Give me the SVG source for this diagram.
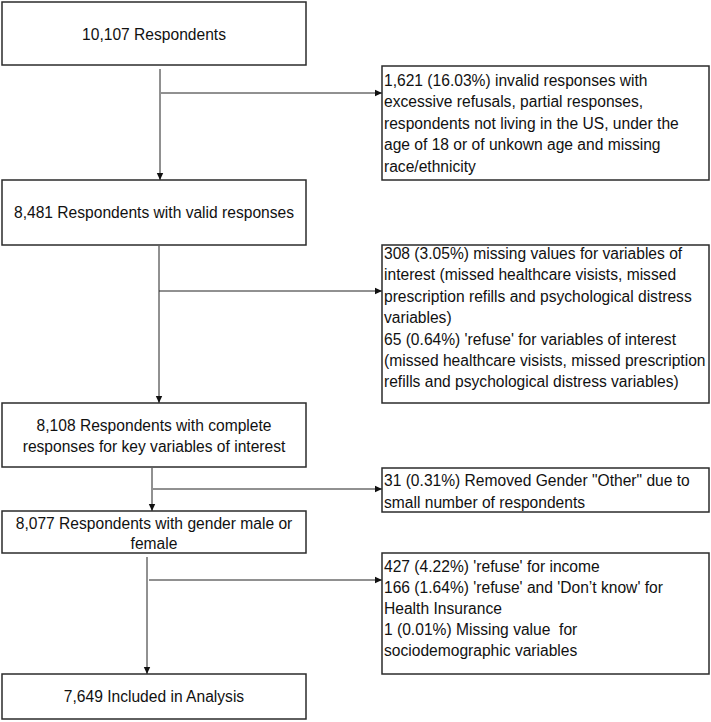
<svg xmlns="http://www.w3.org/2000/svg" width="711" height="722" viewBox="0 0 711 722">
<style>
.box{fill:#fff;stroke:#2b2b2b;stroke-width:1.5}
.t{font-family:"Liberation Sans",Arial,sans-serif;font-size:15.6px;fill:#111}
.c{text-anchor:middle}
.ln{stroke:#222;stroke-width:1;fill:none}
</style>
<defs>
<marker id="ah" markerWidth="8" markerHeight="8" refX="7" refY="4" orient="auto" markerUnits="userSpaceOnUse">
<path d="M0,0.8 L7,4 L0,7.2 Z" fill="#111"/>
</marker>
</defs>
<rect width="711" height="722" fill="#fff"/>
<g id="connectors">
<line class="ln" x1="160" y1="69" x2="160" y2="180" marker-end="url(#ah)"/>
<line class="ln" x1="161" y1="93" x2="382" y2="93" marker-end="url(#ah)"/>
<line class="ln" x1="159" y1="246" x2="159" y2="403" marker-end="url(#ah)"/>
<line class="ln" x1="159" y1="291" x2="382" y2="291" marker-end="url(#ah)"/>
<line class="ln" x1="152" y1="468" x2="152" y2="511" marker-end="url(#ah)"/>
<line class="ln" x1="153" y1="489" x2="382" y2="489" marker-end="url(#ah)"/>
<line class="ln" x1="147" y1="557" x2="147" y2="674" marker-end="url(#ah)"/>
<line class="ln" x1="149" y1="580" x2="382" y2="580" marker-end="url(#ah)"/>
</g>
<g id="n1">
<rect class="box" x="2" y="2" width="304" height="63"/>
<text class="t c" x="154" y="40">10,107 Respondents</text>
</g>
<g id="e1">
<rect class="box" x="382" y="66" width="327" height="114"/>
<text class="t" x="384" y="86">1,621 (16.03%) invalid responses with</text>
<text class="t" x="384" y="107">excessive refusals, partial responses,</text>
<text class="t" x="384" y="129">respondents not living in the US, under the</text>
<text class="t" x="384" y="150">age of 18 or of unkown age and missing</text>
<text class="t" x="384" y="172">race/ethnicity</text>
</g>
<g id="n2">
<rect class="box" x="2" y="180" width="304" height="65"/>
<text class="t c" x="154" y="218">8,481 Respondents with valid responses</text>
</g>
<g id="e2">
<rect class="box" x="382" y="245" width="327" height="158"/>
<text class="t" x="384" y="259">308 (3.05%) missing values for variables of</text>
<text class="t" x="384" y="280">interest (missed healthcare visists, missed</text>
<text class="t" x="384" y="302">prescription refills and psychological distress</text>
<text class="t" x="384" y="323">variables)</text>
<text class="t" x="384" y="345">65 (0.64%) 'refuse' for variables of interest</text>
<text class="t" x="384" y="366">(missed healthcare visists, missed prescription</text>
<text class="t" x="384" y="387">refills and psychological distress variables)</text>
</g>
<g id="n3">
<rect class="box" x="2" y="403" width="304" height="64"/>
<text class="t c" x="154" y="431">8,108 Respondents with complete</text>
<text class="t c" x="154" y="452">responses for key variables of interest</text>
</g>
<g id="e3">
<rect class="box" x="382" y="468" width="327" height="44"/>
<text class="t" x="384" y="486">31 (0.31%) Removed Gender "Other" due to</text>
<text class="t" x="384" y="508">small number of respondents</text>
</g>
<g id="n4">
<rect class="box" x="2" y="511" width="304" height="42"/>
<text class="t c" x="154" y="529">8,077 Respondents with gender male or</text>
<text class="t c" x="154" y="549">female</text>
</g>
<g id="e4">
<rect class="box" x="382" y="553" width="327" height="121"/>
<text class="t" x="384" y="572">427 (4.22%) 'refuse' for income</text>
<text class="t" x="384" y="593">166 (1.64%) 'refuse' and 'Don’t know' for</text>
<text class="t" x="384" y="614">Health Insurance</text>
<text class="t" x="384" y="635">1 (0.01%) Missing value&#160; for</text>
<text class="t" x="384" y="656">sociodemographic variables</text>
</g>
<g id="n5">
<rect class="box" x="2" y="674" width="304" height="45"/>
<text class="t c" x="154" y="702">7,649 Included in Analysis</text>
</g>
</svg>
